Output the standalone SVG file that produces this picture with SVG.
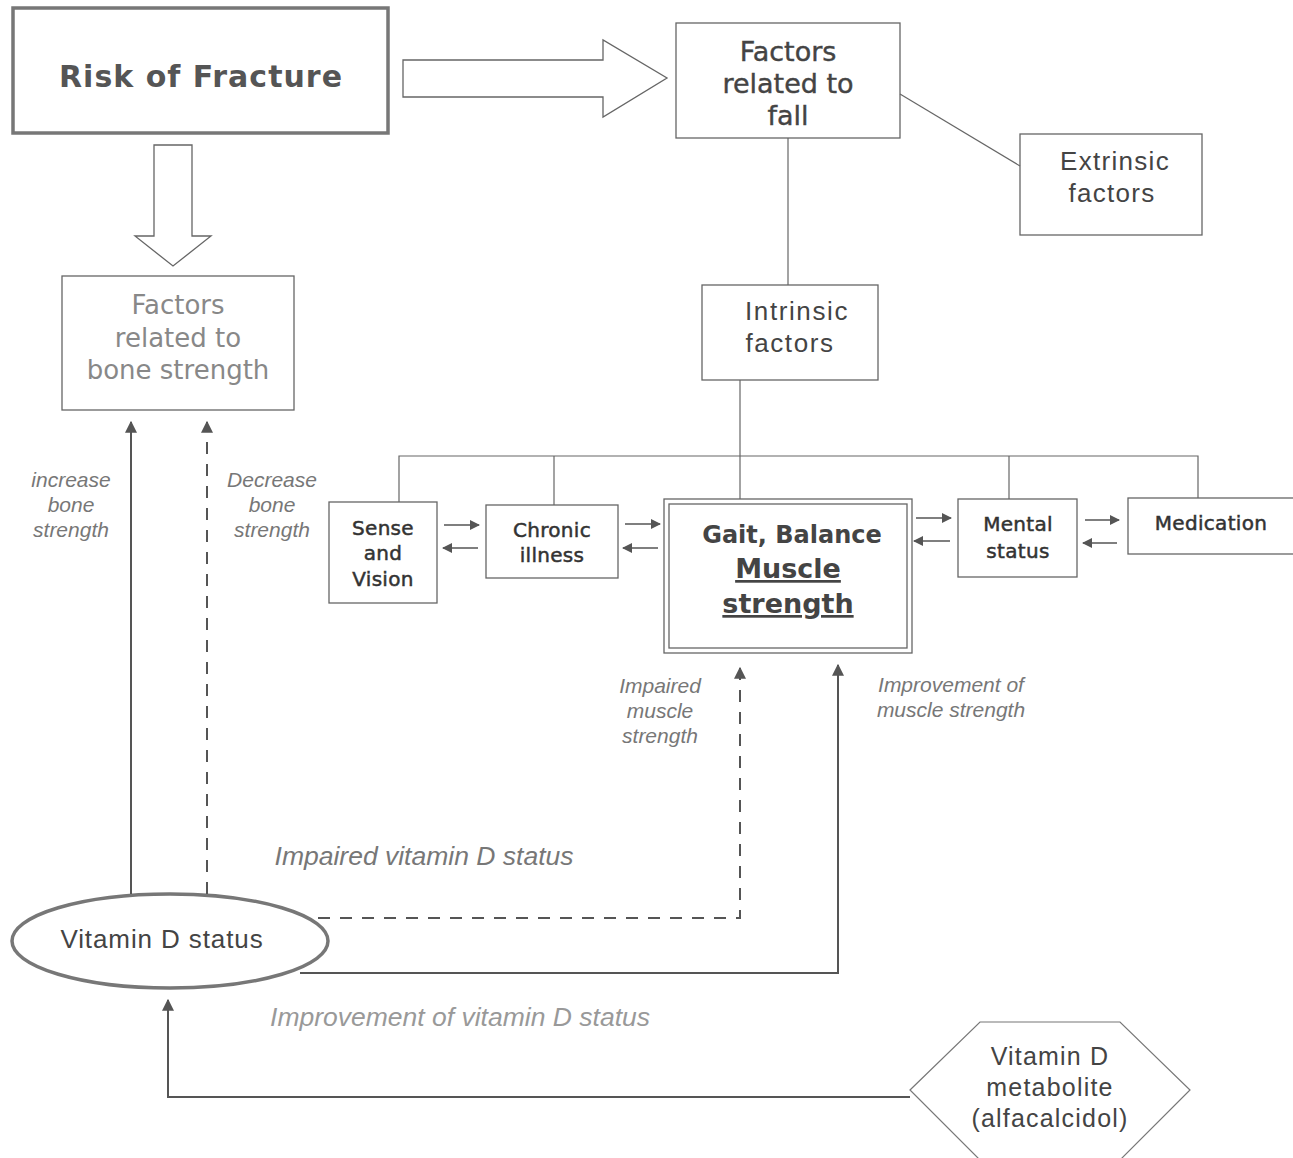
<svg xmlns="http://www.w3.org/2000/svg" width="1293" height="1158" viewBox="0 0 1293 1158">
<defs>
<marker id="ah" viewBox="0 0 10 10" refX="9" refY="5" markerWidth="10" markerHeight="10" markerUnits="userSpaceOnUse" orient="auto">
<path d="M0,0 L10,5 L0,10 z" fill="#555"/>
</marker>
<marker id="ahs" viewBox="0 0 10 10" refX="9" refY="5" markerWidth="12" markerHeight="12" markerUnits="userSpaceOnUse" orient="auto">
<path d="M0,0 L10,5 L0,10 z" fill="#555"/>
</marker>
</defs>
<style>
.box{fill:#fff;stroke:#666;stroke-width:1.3}
.t{font-family:"DejaVu Sans",Verdana,sans-serif;fill:#444;text-anchor:middle}
.s{font-family:"DejaVu Sans",Verdana,sans-serif;fill:#333;stroke:#333;stroke-width:0.5px;text-anchor:middle;font-size:20px;letter-spacing:0.3px}
.m{stroke:#444;stroke-width:0.4px}
.a{font-family:"Liberation Sans",Arial,sans-serif;fill:#444;text-anchor:middle}
.i{font-family:"Liberation Sans",Arial,sans-serif;font-style:italic;fill:#777;text-anchor:middle}
.ln{stroke:#666;stroke-width:1.2;fill:none}
.ar{stroke:#555;stroke-width:2;fill:none}
.sm{stroke:#555;stroke-width:1.5;fill:none}
.dash{stroke-dasharray:12,10}
</style>
<rect width="1293" height="1158" fill="#fff"/>

<g id="risk">
<rect x="13" y="8" width="375" height="125" fill="#fff" stroke="#777" stroke-width="3.5"/>
<text class="t" x="201" y="87" font-size="30" font-weight="bold" letter-spacing="1" style="fill:#555">Risk of Fracture</text>
</g>

<g id="fall">
<rect class="box" x="676" y="23" width="224" height="115"/>
<text class="t m" font-size="27" x="788" y="61">Factors</text>
<text class="t m" font-size="27" x="788" y="93">related to</text>
<text class="t m" font-size="27" x="788" y="125">fall</text>
</g>

<g id="extrinsic">
<rect class="box" x="1020" y="134" width="182" height="101"/>
<text class="a" font-size="26" letter-spacing="1.3" x="1115" y="170">Extrinsic</text>
<text class="a" font-size="26" letter-spacing="1.3" x="1112" y="202">factors</text>
</g>

<g id="bone">
<rect class="box" x="62" y="276" width="232" height="134"/>
<text class="t" font-size="26" x="178" y="314" style="fill:#888">Factors</text>
<text class="t" font-size="26" x="178" y="347" style="fill:#888">related to</text>
<text class="t" font-size="26" x="178" y="379" style="fill:#888">bone strength</text>
</g>

<g id="intrinsic">
<rect class="box" x="702" y="285" width="176" height="95"/>
<text class="a" font-size="26" letter-spacing="1.6" x="797" y="320">Intrinsic</text>
<text class="a" font-size="26" letter-spacing="1.6" x="790" y="352">factors</text>
</g>

<g id="sense">
<rect class="box" x="329" y="502" width="108" height="101"/>
<text class="s" x="383" y="535">Sense</text>
<text class="s" x="383" y="560">and</text>
<text class="s" x="383" y="586">Vision</text>
</g>

<g id="chronic">
<rect class="box" x="486" y="505" width="132" height="73"/>
<text class="s" x="552" y="537">Chronic</text>
<text class="s" x="552" y="562">illness</text>
</g>

<g id="gait">
<rect class="box" x="664" y="499" width="248" height="154" stroke-width="1.8"/>
<rect class="box" x="669" y="504" width="238" height="144" stroke-width="1.8"/>
<text class="t" font-size="24" font-weight="bold" x="792" y="543">Gait, Balance</text>
<text class="t" font-size="27" font-weight="bold" x="788" y="578" text-decoration="underline">Muscle</text>
<text class="t" font-size="27" font-weight="bold" x="788" y="613" text-decoration="underline">strength</text>
</g>

<g id="mental">
<rect class="box" x="958" y="499" width="119" height="78"/>
<text class="s" x="1018" y="531">Mental</text>
<text class="s" x="1018" y="558">status</text>
</g>

<g id="medication">
<rect class="box" x="1128" y="498" width="170" height="56"/>
<text class="s" x="1211" y="530">Medication</text>
</g>

<g id="vitd">
<ellipse cx="170" cy="941" rx="158" ry="47" fill="#fff" stroke="#777" stroke-width="3.5"/>
<text class="a" font-size="26" letter-spacing="0.9" x="162" y="948">Vitamin D status</text>
</g>

<g id="metabolite">
<polygon points="910,1090 980,1022 1120,1022 1190,1090 1120,1160 980,1160" fill="#fff" stroke="#777" stroke-width="1.2"/>
<text class="a" font-size="25" letter-spacing="1.2" x="1050" y="1065">Vitamin D</text>
<text class="a" font-size="25" letter-spacing="1.2" x="1050" y="1096">metabolite</text>
<text class="a" font-size="25" letter-spacing="1.2" x="1050" y="1127">(alfacalcidol)</text>
</g>

<g id="connectors">
<polygon points="403,60 603,60 603,40 667,78 603,117 603,97 403,97" fill="#fff" stroke="#666" stroke-width="1.3"/>
<polygon points="154,145 192,145 192,236 211,236 173,266 135,236 154,236" fill="#fff" stroke="#666" stroke-width="1.3"/>
<line class="ln" x1="900" y1="94" x2="1020" y2="166"/>
<line class="ln" x1="788" y1="138" x2="788" y2="285"/>
<line class="ln" x1="740" y1="380" x2="740" y2="499"/>
<polyline class="ln" points="399,502 399,456 1198,456 1198,498"/>
<line class="ln" x1="554" y1="456" x2="554" y2="505"/>
<line class="ln" x1="1009" y1="456" x2="1009" y2="499"/>
<line class="sm" x1="444" y1="525" x2="479" y2="525" marker-end="url(#ah)"/>
<line class="sm" x1="478" y1="548" x2="443" y2="548" marker-end="url(#ah)"/>
<line class="sm" x1="625" y1="524" x2="660" y2="524" marker-end="url(#ah)"/>
<line class="sm" x1="658" y1="548" x2="623" y2="548" marker-end="url(#ah)"/>
<line class="sm" x1="916" y1="518" x2="951" y2="518" marker-end="url(#ah)"/>
<line class="sm" x1="950" y1="541" x2="914" y2="541" marker-end="url(#ah)"/>
<line class="sm" x1="1085" y1="520" x2="1119" y2="520" marker-end="url(#ah)"/>
<line class="sm" x1="1117" y1="543" x2="1083" y2="543" marker-end="url(#ah)"/>
<line class="ar" x1="131" y1="894" x2="131" y2="422" marker-end="url(#ahs)"/>
<line class="ar dash" x1="207" y1="894" x2="207" y2="422" marker-end="url(#ahs)"/>
<polyline class="ar dash" points="318,918 740,918 740,668" marker-end="url(#ahs)"/>
<polyline class="ar" points="300,973 838,973 838,665" marker-end="url(#ahs)"/>
<polyline class="ar" points="910,1097 168,1097 168,1000" marker-end="url(#ahs)"/>
</g>

<g id="labels">
<text class="i" font-size="21" x="71" y="487">increase</text>
<text class="i" font-size="21" x="71" y="512">bone</text>
<text class="i" font-size="21" x="71" y="537">strength</text>
<text class="i" font-size="21" x="272" y="487">Decrease</text>
<text class="i" font-size="21" x="272" y="512">bone</text>
<text class="i" font-size="21" x="272" y="537">strength</text>
<text class="i" font-size="21" x="660" y="693">Impaired</text>
<text class="i" font-size="21" x="660" y="718">muscle</text>
<text class="i" font-size="21" x="660" y="743">strength</text>
<text class="i" font-size="21" x="951" y="692">Improvement of</text>
<text class="i" font-size="21" x="951" y="717">muscle strength</text>
<text class="i" font-size="26.5" x="424" y="865">Impaired vitamin D status</text>
<text class="i" font-size="26.5" x="460" y="1026" style="fill:#999">Improvement of vitamin D status</text>
</g>
</svg>
